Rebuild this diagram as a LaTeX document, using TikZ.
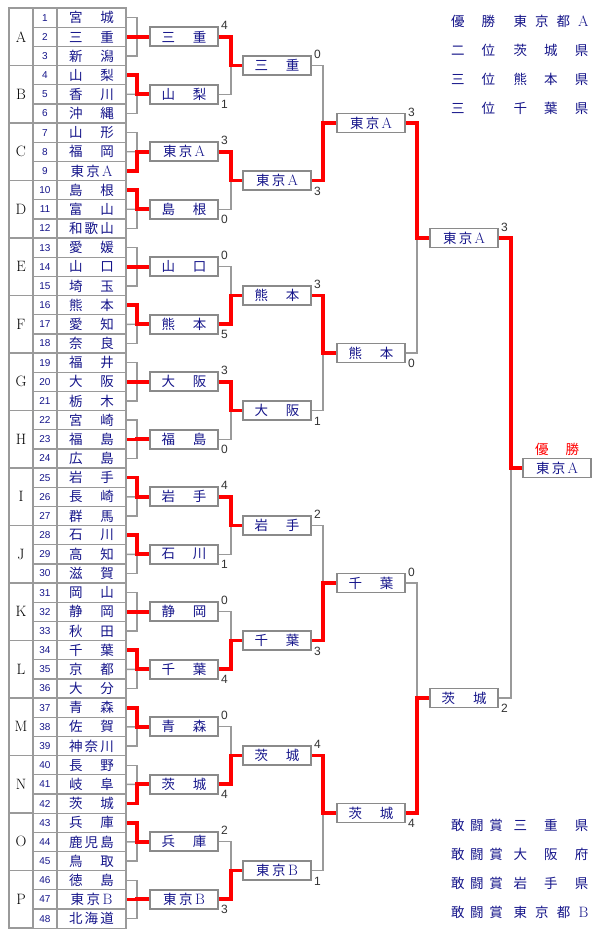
\documentclass[tikz,border=0pt]{standalone}
\usepackage{fontspec}
\newfontfamily\jp{Noto Sans CJK JP}
\newfontfamily\arl{Liberation Sans}
\usetikzlibrary{calc,backgrounds}
\definecolor{navy}{HTML}{15158A}
\definecolor{lgray}{HTML}{9A9A9A}
\definecolor{bgray}{HTML}{8A8A8A}
\definecolor{rred}{HTML}{FF0000}
\definecolor{scol}{HTML}{333333}
\newcommand\jtwo[2]{\makebox[45pt]{#1\hfill #2}}
\newcommand\jthr[3]{\makebox[45pt]{#1\hfill #2\hfill #3}}
\newcommand\latn[1]{{\rmfamily\fontsize{15}{15}\selectfont #1}}
\newcommand\tky[1]{\makebox[42pt]{東\hfill 京\hfill \latn{#1}}}
\newcommand\rc[2]{%
  \node[numcell] (m#1) at (45,{8+19.17*(#1-0.5)}) {#1};
  \node[namecell] (n#1) at (91.5,{8+19.17*(#1-0.5)}) {#2};}
\newcommand\scT[2]{\node[score,anchor=west] (s#1) at ($(#1.north east)+(3,-1.5)$) {#2};}
\newcommand\scB[2]{\node[score,anchor=west] (s#1) at ($(#1.south east)+(3,1)$) {#2};}
\begin{document}
\begin{tikzpicture}[x=1pt,y=-1pt,
  every node/.style={inner sep=0pt,outer sep=0pt},
  grpcell/.style={draw=lgray,line width=1.3,minimum width=24,minimum height=57.5,font=\fontsize{15}{15}\selectfont},
  numcell/.style={draw=lgray,line width=1.3,minimum width=24,minimum height=19.17,text=navy,font=\arl\fontsize{10}{10}\selectfont},
  namecell/.style={draw=lgray,line width=1.3,minimum width=69,minimum height=19.17,text=navy,font=\jp\fontsize{13.5}{14}\selectfont},
  tbox/.style={draw=bgray,line width=1.6,fill=white,minimum width=68,minimum height=19,text=navy,font=\jp\fontsize{13.5}{14}\selectfont},
  gl/.style={draw=lgray,line width=1.4},
  rl/.style={draw=rred,line width=3.6},
  score/.style={text=scol,font=\arl\fontsize{12}{12}\selectfont},
  lgd/.style={text=navy,font=\jp\fontsize{13.5}{14}\selectfont},
]
\useasboundingbox (0,0) rectangle (610,940);

% group letters
\foreach \L [count=\k from 0] in {A,B,C,D,E,F,G,H,I,J,K,L,M,N,O,P}
  \node[grpcell] (g\L) at (21,{36.75+57.5*\k}) {\L};

% table rows
\rc{1}{\jtwo{宮}{城}}
\rc{2}{\jtwo{三}{重}}
\rc{3}{\jtwo{新}{潟}}
\rc{4}{\jtwo{山}{梨}}
\rc{5}{\jtwo{香}{川}}
\rc{6}{\jtwo{沖}{縄}}
\rc{7}{\jtwo{山}{形}}
\rc{8}{\jtwo{福}{岡}}
\rc{9}{\tky{A}}
\rc{10}{\jtwo{島}{根}}
\rc{11}{\jtwo{富}{山}}
\rc{12}{\jthr{和}{歌}{山}}
\rc{13}{\jtwo{愛}{媛}}
\rc{14}{\jtwo{山}{口}}
\rc{15}{\jtwo{埼}{玉}}
\rc{16}{\jtwo{熊}{本}}
\rc{17}{\jtwo{愛}{知}}
\rc{18}{\jtwo{奈}{良}}
\rc{19}{\jtwo{福}{井}}
\rc{20}{\jtwo{大}{阪}}
\rc{21}{\jtwo{栃}{木}}
\rc{22}{\jtwo{宮}{崎}}
\rc{23}{\jtwo{福}{島}}
\rc{24}{\jtwo{広}{島}}
\rc{25}{\jtwo{岩}{手}}
\rc{26}{\jtwo{長}{崎}}
\rc{27}{\jtwo{群}{馬}}
\rc{28}{\jtwo{石}{川}}
\rc{29}{\jtwo{高}{知}}
\rc{30}{\jtwo{滋}{賀}}
\rc{31}{\jtwo{岡}{山}}
\rc{32}{\jtwo{静}{岡}}
\rc{33}{\jtwo{秋}{田}}
\rc{34}{\jtwo{千}{葉}}
\rc{35}{\jtwo{京}{都}}
\rc{36}{\jtwo{大}{分}}
\rc{37}{\jtwo{青}{森}}
\rc{38}{\jtwo{佐}{賀}}
\rc{39}{\jthr{神}{奈}{川}}
\rc{40}{\jtwo{長}{野}}
\rc{41}{\jtwo{岐}{阜}}
\rc{42}{\jtwo{茨}{城}}
\rc{43}{\jtwo{兵}{庫}}
\rc{44}{\jthr{鹿}{児}{島}}
\rc{45}{\jtwo{鳥}{取}}
\rc{46}{\jtwo{徳}{島}}
\rc{47}{\tky{B}}
\rc{48}{\jthr{北}{海}{道}}

% round 1 boxes
\node[tbox] (a1) at (184,36.75) {\jtwo{三}{重}};
\node[tbox] (a2) at (184,94.25) {\jtwo{山}{梨}};
\node[tbox] (a3) at (184,151.75) {\tky{A}};
\node[tbox] (a4) at (184,209.25) {\jtwo{島}{根}};
\node[tbox] (a5) at (184,266.75) {\jtwo{山}{口}};
\node[tbox] (a6) at (184,324.25) {\jtwo{熊}{本}};
\node[tbox] (a7) at (184,381.75) {\jtwo{大}{阪}};
\node[tbox] (a8) at (184,439.25) {\jtwo{福}{島}};
\node[tbox] (a9) at (184,496.75) {\jtwo{岩}{手}};
\node[tbox] (a10) at (184,554.25) {\jtwo{石}{川}};
\node[tbox] (a11) at (184,611.75) {\jtwo{静}{岡}};
\node[tbox] (a12) at (184,669.25) {\jtwo{千}{葉}};
\node[tbox] (a13) at (184,726.75) {\jtwo{青}{森}};
\node[tbox] (a14) at (184,784.25) {\jtwo{茨}{城}};
\node[tbox] (a15) at (184,841.75) {\jtwo{兵}{庫}};
\node[tbox] (a16) at (184,899.25) {\tky{B}};
% round 2
\node[tbox] (b1) at (277,65.5) {\jtwo{三}{重}};
\node[tbox] (b2) at (277,180.5) {\tky{A}};
\node[tbox] (b3) at (277,295.5) {\jtwo{熊}{本}};
\node[tbox] (b4) at (277,410.5) {\jtwo{大}{阪}};
\node[tbox] (b5) at (277,525.5) {\jtwo{岩}{手}};
\node[tbox] (b6) at (277,640.5) {\jtwo{千}{葉}};
\node[tbox] (b7) at (277,755.5) {\jtwo{茨}{城}};
\node[tbox] (b8) at (277,870.5) {\tky{B}};
% round 3
\node[tbox] (c1) at (371,123) {\tky{A}};
\node[tbox] (c2) at (371,353) {\jtwo{熊}{本}};
\node[tbox] (c3) at (371,583) {\jtwo{千}{葉}};
\node[tbox] (c4) at (371,813) {\jtwo{茨}{城}};
% round 4
\node[tbox] (d1) at (464,238) {\tky{A}};
\node[tbox] (d2) at (464,698) {\jtwo{茨}{城}};
% final
\node[tbox] (f) at (557,468) {\tky{A}};
\node[text=rred,font=\jp\fontsize{13.5}{14}\selectfont] (win) at (557,449) {\makebox[44pt]{優\hfill 勝}};

% connectors
\begin{scope}[on background layer]
\fill[white] (0,0) rectangle (610,940);
\foreach \k/\w in {1/2,2/4,3/9,4/10,5/14,6/16,7/20,8/23,9/25,10/28,11/32,12/34,13/37,14/42,15/43,16/47} {
  \pgfmathtruncatemacro\rA{3*\k-2}
  \pgfmathtruncatemacro\rB{3*\k-1}
  \pgfmathtruncatemacro\rC{3*\k}
  \draw[gl] (n\rA.east) -- ++(11,0) |- (n\rC.east);
  \draw[gl] (n\rB.east) -- (a\k.west);
  \draw[rl] (n\w.east) -- ++(11,0) |- (a\k.west);
}
\foreach \j/\w in {1/1,2/3,3/6,4/7,5/9,6/12,7/14,8/16} {
  \pgfmathtruncatemacro\pA{2*\j-1}
  \pgfmathtruncatemacro\pB{2*\j}
  \draw[gl] (a\pA.east) -- ++(13,0) |- (a\pB.east);
  \draw[rl] (a\w.east) -- ++(13,0) |- (b\j.west);
}
\foreach \j/\w in {1/2,2/3,3/6,4/7} {
  \pgfmathtruncatemacro\pA{2*\j-1}
  \pgfmathtruncatemacro\pB{2*\j}
  \draw[gl] (b\pA.east) -- ++(12,0) |- (b\pB.east);
  \draw[rl] (b\w.east) -- ++(12,0) |- (c\j.west);
}
\foreach \j/\w in {1/1,2/4} {
  \pgfmathtruncatemacro\pA{2*\j-1}
  \pgfmathtruncatemacro\pB{2*\j}
  \draw[gl] (c\pA.east) -- ++(12,0) |- (c\pB.east);
  \draw[rl] (c\w.east) -- ++(12,0) |- (d\j.west);
}
\draw[gl] (d1.east) -- ++(13,0) |- (d2.east);
\draw[rl] (d1.east) -- ++(13,0) |- (f.west);
\end{scope}

% scores
\scT{a1}{4}\scB{a2}{1}\scT{a3}{3}\scB{a4}{0}
\scT{a5}{0}\scB{a6}{5}\scT{a7}{3}\scB{a8}{0}
\scT{a9}{4}\scB{a10}{1}\scT{a11}{0}\scB{a12}{4}
\scT{a13}{0}\scB{a14}{4}\scT{a15}{2}\scB{a16}{3}
\scT{b1}{0}\scB{b2}{3}\scT{b3}{3}\scB{b4}{1}
\scT{b5}{2}\scB{b6}{3}\scT{b7}{4}\scB{b8}{1}
\scT{c1}{3}\scB{c2}{0}\scT{c3}{0}\scB{c4}{4}
\scT{d1}{3}\scB{d2}{2}

% legend top
\node[lgd] (t1a) at (473,21.5) {\makebox[44pt]{優\hfill 勝}};
\node[lgd] (t1b) at (551,21.5) {\makebox[75pt]{東\hfill 京\hfill 都\hfill \latn{A}}};
\node[lgd] (t2a) at (473,50.5) {\makebox[44pt]{二\hfill 位}};
\node[lgd] (t2b) at (551,50.5) {\makebox[75pt]{茨\hfill 城\hfill 県}};
\node[lgd] (t3a) at (473,79.5) {\makebox[44pt]{三\hfill 位}};
\node[lgd] (t3b) at (551,79.5) {\makebox[75pt]{熊\hfill 本\hfill 県}};
\node[lgd] (t4a) at (473,108.5) {\makebox[44pt]{三\hfill 位}};
\node[lgd] (t4b) at (551,108.5) {\makebox[75pt]{千\hfill 葉\hfill 県}};
% legend bottom
\node[lgd] (u1a) at (477,825) {\makebox[52pt]{敢\hfill 闘\hfill 賞}};
\node[lgd] (u1b) at (551,825) {\makebox[75pt]{三\hfill 重\hfill 県}};
\node[lgd] (u2a) at (477,854) {\makebox[52pt]{敢\hfill 闘\hfill 賞}};
\node[lgd] (u2b) at (551,854) {\makebox[75pt]{大\hfill 阪\hfill 府}};
\node[lgd] (u3a) at (477,883) {\makebox[52pt]{敢\hfill 闘\hfill 賞}};
\node[lgd] (u3b) at (551,883) {\makebox[75pt]{岩\hfill 手\hfill 県}};
\node[lgd] (u4a) at (477,912) {\makebox[52pt]{敢\hfill 闘\hfill 賞}};
\node[lgd] (u4b) at (551,912) {\makebox[75pt]{東\hfill 京\hfill 都\hfill \latn{B}}};
\end{tikzpicture}
\end{document}
